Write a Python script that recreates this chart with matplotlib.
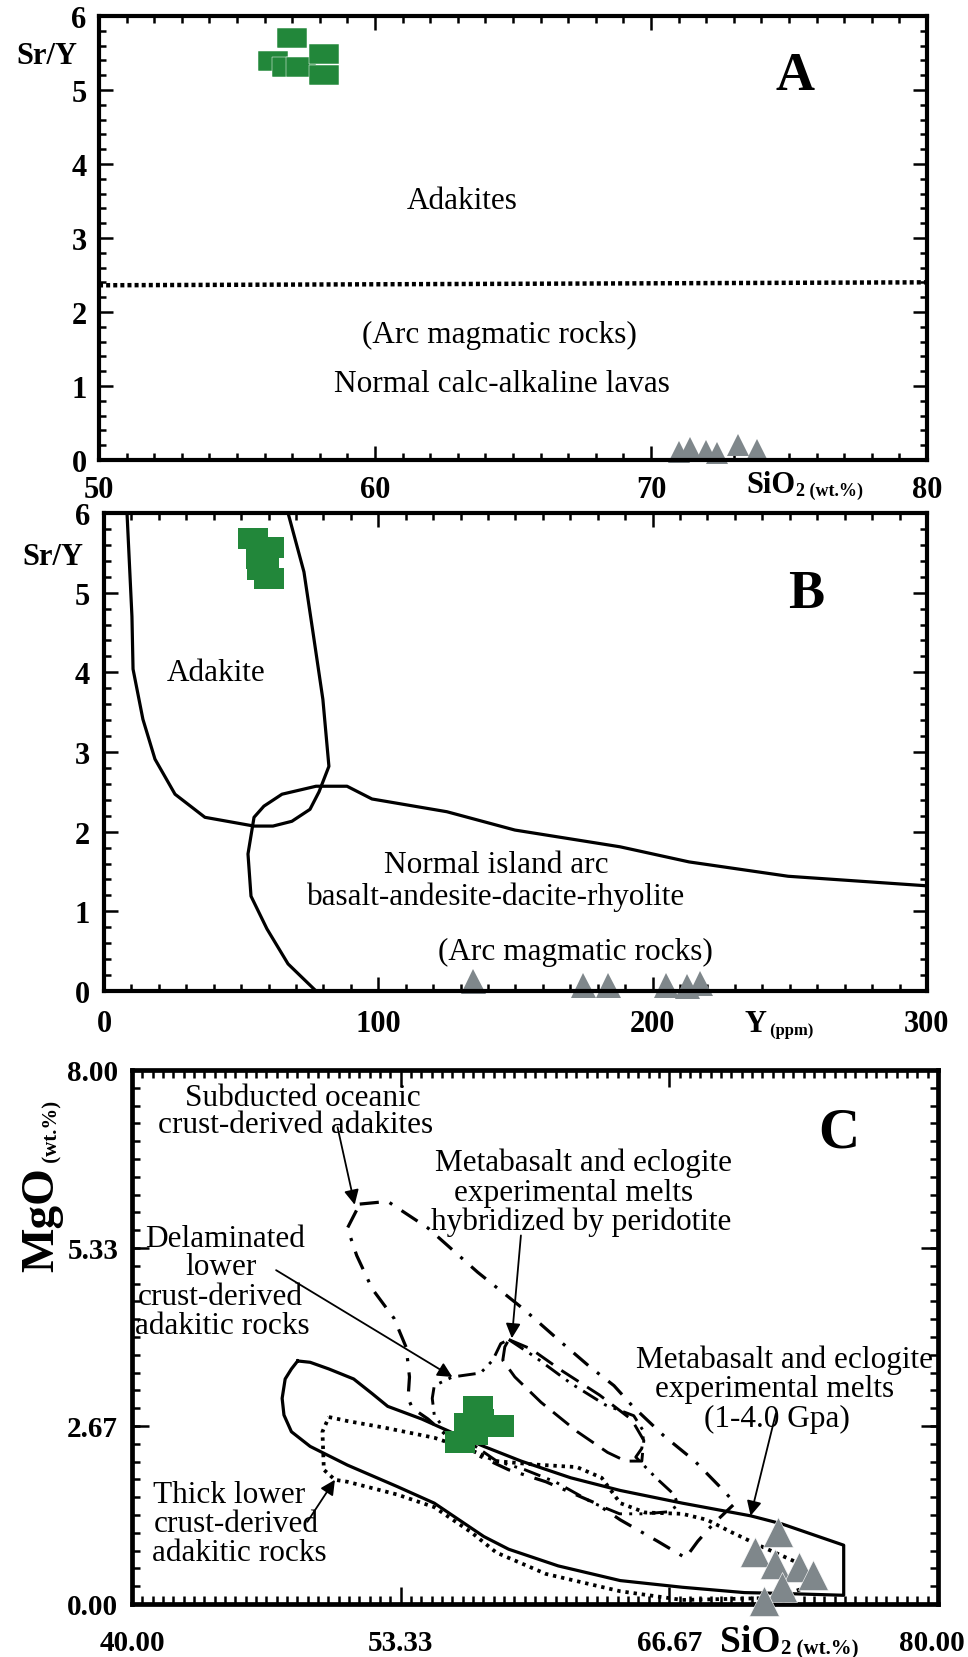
import numpy as np
import matplotlib
matplotlib.use('Agg')
import matplotlib.pyplot as plt
from matplotlib.ticker import MultipleLocator
from matplotlib.transforms import ScaledTranslation

plt.rcParams['font.family'] = ['Liberation Serif', 'DejaVu Serif']

GREEN = '#22873a'
GRAY = '#7f878b'

# ---------------- Panel A data ----------------
a_sq_sio2 = [57.0, 56.3, 56.8, 57.3, 58.15, 58.15]
a_sq_sry = [5.70, 5.39, 5.31, 5.31, 5.49, 5.20]
a_tri_sio2 = [71.0, 71.4, 72.0, 72.4, 73.15, 73.85]
a_tri_sry = [0.11, 0.16, 0.12, 0.09, 0.20, 0.14]
a_div_sio2 = [50, 80]
a_div_sry = [2.36, 2.40]

# ---------------- Panel B data ----------------
b_sq_y = [54.3, 60.2, 57.2, 58.5, 60.2, 57.6]
b_sq_sry = [5.68, 5.57, 5.44, 5.32, 5.19, 5.30]
b_tri_y = [134.5, 174.6, 183.7, 204.8, 212.5, 217.3]
b_tri_sry = [0.13, 0.08, 0.08, 0.08, 0.06, 0.10]
b_adakite_y = [8.4, 10.2, 10.6, 14.2, 18.6, 25.9, 36.8, 54.7, 61.6, 68.5, 75.1, 78.4, 82.0, 79.8, 76.2, 72.9, 67.1]
b_adakite_sry = [6.0, 4.70, 4.04, 3.41, 2.91, 2.47, 2.18, 2.07, 2.07, 2.13, 2.28, 2.50, 2.82, 3.66, 4.50, 5.26, 6.0]
b_arc_y = [77.3, 67.1, 59.4, 53.6, 52.5, 54.7, 58.3, 64.9, 77.3, 88.6, 97.7, 125, 149.8, 188.1, 213.3, 249.4, 300]
b_arc_sry = [0, 0.34, 0.78, 1.19, 1.72, 2.18, 2.32, 2.47, 2.57, 2.57, 2.41, 2.25, 2.02, 1.81, 1.62, 1.44, 1.32]

# ---------------- Panel C data ----------------
c_sq_sio2 = [57.15, 58.2, 56.3, 56.7, 57.2, 56.9]
c_sq_mgo = [2.95, 2.67, 2.43, 2.70, 2.75, 2.55]
c_tri_sio2 = [72.06, 70.92, 71.91, 73.10, 73.80, 72.26, 71.36]
c_tri_mgo = [1.08, 0.78, 0.60, 0.55, 0.43, 0.25, 0.04]

# Metabasalt and eclogite experimental melts (1-4.0 GPa) - solid
c_melt_sio2 = [48.22, 48.84, 49.77, 51.00, 51.92, 52.69, 54.38, 56.23, 57.46, 59.31, 61.77, 64.23, 67.31,
               70.70, 72.24, 75.32, 75.32, 71.93, 70.39, 67.31, 64.23, 61.15, 58.69, 57.46, 56.23, 55.00,
               53.15, 50.69, 48.84, 47.91, 47.54, 47.45, 47.60, 47.91, 48.22]
c_melt_mgo = [3.64, 3.62, 3.52, 3.37, 3.15, 2.96, 2.77, 2.52, 2.36, 2.14, 1.89, 1.70, 1.51,
              1.32, 1.20, 0.88, 0.13, 0.16, 0.17, 0.25, 0.35, 0.57, 0.82, 1.01, 1.26, 1.51,
              1.76, 2.08, 2.36, 2.58, 2.83, 3.08, 3.37, 3.52, 3.64]
# Thick lower crust-derived adakitic rocks - dotted
c_thick_sio2 = [49.77, 50.69, 52.54, 55.00, 56.85, 58.08, 59.92, 62.08, 63.31, 64.23, 65.46, 67.31, 68.54,
                69.78, 71.32, 73.16, 73.47, 71.93, 67.31, 64.23, 60.54, 58.08, 56.85, 55.00, 53.15, 50.69,
                50.07, 49.52, 49.45, 49.77]
c_thick_mgo = [2.80, 2.74, 2.64, 2.49, 2.30, 2.14, 2.09, 2.05, 1.89, 1.51, 1.37, 1.35, 1.26,
               1.07, 0.85, 0.60, 0.25, 0.09, 0.06, 0.19, 0.45, 0.77, 1.07, 1.45, 1.64, 1.83,
               1.86, 2.01, 2.58, 2.80]
# Subducted oceanic crust-derived adakites - dash-dot
c_sub_sio2 = [51.30, 52.69, 54.69, 57.15, 59.46, 61.15, 62.69, 63.92, 64.85, 66.39, 67.93, 69.16, 69.93,
              68.85, 68.08, 67.47, 66.08, 64.23, 63.00, 60.54, 58.69, 56.85, 55.62, 54.69, 53.92, 53.70,
              53.77, 53.61, 53.00, 51.92, 51.15, 50.69, 51.30]
c_sub_mgo = [5.99, 6.03, 5.63, 4.97, 4.41, 3.96, 3.56, 3.27, 2.96, 2.52, 2.14, 1.76, 1.51,
             1.20, 0.94, 0.69, 0.94, 1.26, 1.51, 1.83, 2.01, 2.27, 2.52, 2.77, 2.93, 3.08,
             3.40, 3.84, 4.28, 4.72, 5.22, 5.63, 5.99]
# Delaminated lower crust-derived adakitic rocks - dash-dot-dot
c_del_sio2 = [58.70, 60.0, 61.8, 63.5, 64.9, 65.4, 65.3, 65.0, 66.0, 66.9, 67.1, 66.6, 65.4, 64.2,
              62.9, 61.0, 59.5, 58.1, 56.9, 55.6, 55.0, 54.9, 55.0, 55.9, 57.3, 57.9, 58.3, 58.70]
c_del_mgo = [3.96, 3.70, 3.30, 2.98, 2.82, 2.58, 2.33, 2.20, 1.89, 1.64, 1.48, 1.38, 1.35, 1.35,
             1.51, 1.83, 2.01, 2.14, 2.39, 2.58, 2.83, 3.08, 3.27, 3.40, 3.46, 3.65, 3.90, 3.96]
# Metabasalt and eclogite melts hybridized by peridotite - dashed
c_hyb_sio2 = [58.70, 59.8, 61.3, 63.2, 64.8, 65.4, 65.3, 64.5, 63.6, 62.1, 60.3, 59.0, 58.4, 58.5, 58.70]
c_hyb_mgo = [3.96, 3.82, 3.50, 3.13, 2.76, 2.45, 2.14, 2.14, 2.27, 2.58, 3.02, 3.40, 3.65, 3.85, 3.96]

FS_TXT = 22.5
FS_TICK = 22

fig = plt.figure(figsize=(9.68, 16.58), dpi=100, facecolor='white')


def style_axes(ax, spine_lw=3.0, labelsize=FS_TICK):
    for s in ax.spines.values():
        s.set_linewidth(spine_lw)
        s.set_zorder(3)
    ax.tick_params(which='both', direction='in', top=True, right=True, width=1.8,
                   labelsize=labelsize)
    ax.tick_params(which='major', length=10)
    ax.tick_params(which='minor', length=5)
    for lab in ax.get_xticklabels() + ax.get_yticklabels():
        lab.set_fontweight('bold')


def rect(aspect):
    return [(-1, -aspect), (1, -aspect), (1, aspect), (-1, aspect), (-1, -aspect)]

# ================= Panel A =================
axA = fig.add_axes([0.1023, 0.7220, 0.8554, 0.2678])
axA.set_xlim(50, 80)
axA.set_ylim(0, 6)
axA.xaxis.set_major_locator(MultipleLocator(10))
axA.xaxis.set_minor_locator(MultipleLocator(1))
axA.yaxis.set_major_locator(MultipleLocator(1))
axA.yaxis.set_minor_locator(MultipleLocator(0.2))
axA.tick_params(axis='x', pad=11)
axA.tick_params(axis='y', pad=9)
style_axes(axA)
axA.plot(a_div_sio2, a_div_sry, color='black', lw=3.2, linestyle=(0, (0.9, 0.7)))
axA.plot(a_sq_sio2, a_sq_sry, ls='none', marker=rect(0.66), ms=21.6, mfc=GREEN, mec='white', mew=0.35, zorder=4)
axA.plot(a_tri_sio2, a_tri_sry, ls='none', marker='^', ms=16, mfc=GRAY, mec=GRAY, mew=0, zorder=2, clip_on=False)
axA.text(63.15, 3.5, 'Adakites', fontsize=FS_TXT, ha='center', va='center')
axA.text(64.5, 1.69, '(Arc magmatic rocks)', fontsize=FS_TXT, ha='center', va='center')
axA.text(64.6, 1.03, 'Normal calc-alkaline lavas', fontsize=FS_TXT, ha='center', va='center')
axA.text(75.2, 5.19, 'A', fontsize=39, fontweight='bold', ha='center', va='center')
axA.text(-0.063, 0.91, 'Sr/Y', transform=axA.transAxes, fontsize=22, fontweight='bold', ha='center', va='center')
tA = axA.text(0.782, -0.072, 'SiO', transform=axA.transAxes, fontsize=22, fontweight='bold', ha='left', va='baseline')
axA.annotate('2 (wt.%)', xy=(1, 0), xycoords=tA, fontsize=13, fontweight='bold', ha='left', va='bottom')

# ================= Panel B =================
axB = fig.add_axes([0.1074, 0.4017, 0.8502, 0.2883])
axB.set_xlim(0, 300)
axB.set_ylim(0, 6)
axB.xaxis.set_major_locator(MultipleLocator(100))
axB.xaxis.set_minor_locator(MultipleLocator(10))
axB.yaxis.set_major_locator(MultipleLocator(1))
axB.yaxis.set_minor_locator(MultipleLocator(0.2))
axB.tick_params(axis='x', pad=13)
axB.tick_params(axis='y', pad=10)
style_axes(axB)
axB.plot(b_adakite_y, b_adakite_sry, color='black', lw=2.3)
axB.plot(b_arc_y, b_arc_sry, color='black', lw=2.3)
axB.plot(b_sq_y, b_sq_sry, ls='none', marker=rect(0.7), ms=21.6, mfc=GREEN, mec=GREEN, mew=0, zorder=4)
axB.plot(b_tri_y, b_tri_sry, ls='none', marker='^', ms=18, mfc=GRAY, mec=GRAY, mew=0, zorder=2, clip_on=False)
axB.text(41, 4.0, 'Adakite', fontsize=FS_TXT, ha='center', va='center')
axB.text(143, 1.59, 'Normal island arc', fontsize=FS_TXT, ha='center', va='center')
axB.text(143, 1.19, 'basalt-andesite-dacite-rhyolite', fontsize=FS_TXT, ha='center', va='center')
axB.text(172, 0.49, '(Arc magmatic rocks)', fontsize=FS_TXT, ha='center', va='center')
axB.text(256, 4.98, 'B', fontsize=39, fontweight='bold', ha='center', va='center')
axB.text(-0.062, 0.91, 'Sr/Y', transform=axB.transAxes, fontsize=22, fontweight='bold', ha='center', va='center')
tB = axB.text(0.778, -0.084, 'Y', transform=axB.transAxes, fontsize=22, fontweight='bold', ha='left', va='baseline')
axB.annotate(' (ppm)', xy=(1, 0), xycoords=tB, fontsize=12, fontweight='bold', ha='left', va='bottom')

# ================= Panel C =================
axC = fig.add_axes([0.1364, 0.0320, 0.8326, 0.3221])
axC.set_xlim(40, 80)
axC.set_ylim(0, 8)
c_xticks = [40, 53.333, 66.667, 80]
c_xlabels = ['40.00', '53.33', '66.67', '80.00']
c_yticks = [0, 2.667, 5.333, 8]
c_ylabels = ['0.00', '2.67', '5.33', '8.00']
axC.set_xticks(c_xticks, c_xlabels)
axC.set_yticks(c_yticks, c_ylabels)
axC.xaxis.set_minor_locator(MultipleLocator(40 / 78))
axC.yaxis.set_minor_locator(MultipleLocator(8 / 30))
axC.tick_params(axis='x', pad=18)
axC.tick_params(axis='y', pad=10)
style_axes(axC, spine_lw=3.4, labelsize=21)
axC.tick_params(which='major', length=12)
axC.tick_params(which='minor', length=6)

axC.plot(c_melt_sio2, c_melt_mgo, color='black', lw=2.3)
axC.plot(c_thick_sio2, c_thick_mgo, color='black', lw=2.7, linestyle=(0, (0.9, 1.3)))
axC.plot(c_sub_sio2, c_sub_mgo, color='black', lw=2.3, linestyle=(0, (6, 3.5, 1, 3.5)))
axC.plot(c_del_sio2, c_del_mgo, color='black', lw=2.1, linestyle=(0, (6, 2.5, 1, 2.5, 1, 2.5)))
axC.plot(c_hyb_sio2, c_hyb_mgo, color='black', lw=2.1, linestyle=(0, (7, 3.5)))

axC.plot(c_sq_sio2, c_sq_mgo, ls='none', marker=rect(0.74), ms=22.3, mfc=GREEN, mec=GREEN, mew=0, zorder=4)
axC.plot(c_tri_sio2, c_tri_mgo, ls='none', marker='^', ms=21.5, mfc=GRAY, mec='white', mew=0.4, zorder=4, clip_on=False)

ap = dict(arrowstyle='-|>', color='black', lw=1.3, mutation_scale=22, shrinkA=0, shrinkB=0)
axC.text(48.5, 7.58, 'Subducted oceanic', fontsize=FS_TXT, ha='center', va='center')
axC.text(48.1, 7.18, 'crust-derived adakites', fontsize=FS_TXT, ha='center', va='center')
axC.annotate('', xy=(51.05, 5.98), xytext=(50.2, 7.14), arrowprops=ap)
axC.text(62.4, 6.61, 'Metabasalt and eclogite', fontsize=FS_TXT, ha='center', va='center')
axC.text(61.9, 6.17, 'experimental melts', fontsize=FS_TXT, ha='center', va='center')
axC.text(62.3, 5.74, 'hybridized by peridotite', fontsize=FS_TXT, ha='center', va='center')
axC.annotate('', xy=(58.85, 3.98), xytext=(59.3, 5.52), arrowprops=ap)
axC.text(44.6, 5.48, 'Delaminated', fontsize=FS_TXT, ha='center', va='center')
axC.text(44.4, 5.05, 'lower', fontsize=FS_TXT, ha='center', va='center')
axC.text(44.4, 4.60, 'crust-derived', fontsize=FS_TXT, ha='center', va='center')
axC.text(44.5, 4.17, 'adakitic rocks', fontsize=FS_TXT, ha='center', va='center')
axC.annotate('', xy=(55.9, 3.40), xytext=(47.15, 5.0), arrowprops=ap)
axC.text(72.4, 3.66, 'Metabasalt and eclogite', fontsize=FS_TXT, ha='center', va='center')
axC.text(71.9, 3.22, 'experimental melts', fontsize=FS_TXT, ha='center', va='center')
axC.text(72.0, 2.78, '(1-4.0 Gpa)', fontsize=FS_TXT, ha='center', va='center')
axC.annotate('', xy=(70.7, 1.32), xytext=(71.95, 2.85), arrowprops=ap)
axC.text(44.84, 1.64, 'Thick lower', fontsize=FS_TXT, ha='center', va='center')
axC.text(45.15, 1.21, 'crust-derived', fontsize=FS_TXT, ha='center', va='center')
axC.text(45.3, 0.77, 'adakitic rocks', fontsize=FS_TXT, ha='center', va='center')
axC.annotate('', xy=(50.07, 1.86), xytext=(48.7, 1.23), arrowprops=ap)
axC.text(75.1, 7.06, 'C', fontsize=41, fontweight='bold', ha='center', va='center')

tM = axC.text(-0.112, 0.721, 'MgO', transform=axC.transAxes, rotation=90, fontsize=34,
              fontweight='bold', ha='center', va='center')
axC.annotate(' (wt.%)', xy=(1, 1), xycoords=tM, rotation=90, fontsize=15, fontweight='bold',
             ha='right', va='bottom')
tS = axC.text(0.73, -0.088, 'SiO', transform=axC.transAxes, fontsize=27, fontweight='bold',
              ha='left', va='baseline')
axC.annotate('2 (wt.%)', xy=(1, 0), xycoords=tS, fontsize=15, fontweight='bold', ha='left', va='bottom')

# keep the last x tick label of panel C inside the figure (right-aligned near the edge)
last = axC.xaxis.get_major_ticks()[-1].label1
last.set_horizontalalignment('right')
last.set_transform(last.get_transform() + ScaledTranslation(0.27, 0, fig.dpi_scale_trans))

fig.savefig('out.png', dpi=100, facecolor='white')
